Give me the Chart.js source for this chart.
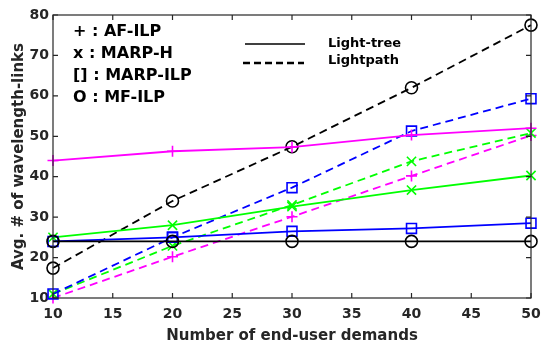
<!DOCTYPE html>
<html>
<head>
<meta charset="utf-8">
<script src="https://cdn.jsdelivr.net/npm/chart.js@4.4.0/dist/chart.umd.min.js"></script>
<style>
  html, body { margin: 0; padding: 0; background: #fff; }
  #wrap { width: 541px; height: 345px; }
</style>
</head>
<body>
<div id="wrap"><canvas id="chart" width="541" height="345"></canvas></div>
<script>
// x values: number of end-user demands
const demands = [10, 20, 30, 40, 50];
const xTicks = [10, 15, 20, 25, 30, 35, 40, 45, 50];
const yTicks = [10, 20, 30, 40, 50, 60, 70, 80];

// Light-tree (solid lines)
const afIlpTree = [44, 46.3, 47.3, 50.3, 52];
const marpHTree = [25, 28, 32.6, 36.7, 40.3];
const marpIlpTree = [24, 25, 26.5, 27.2, 28.5];
const mfIlpTree = [24, 24, 24, 24, 24];

// Lightpath (dashed lines)
const afIlpPath = [10, 20.2, 30.1, 40.2, 50.2];
const marpHPath = [11, 22.9, 33, 43.8, 50.8];
const marpIlpPath = [11, 25, 37.3, 51.3, 59.3];
const mfIlpPath = [17.4, 34, 47.4, 62, 77.5];

const legendMarkers = ['+ : AF-ILP', 'x : MARP-H', '[] : MARP-ILP', 'O : MF-ILP'];
const legendLines = ['Light-tree', 'Lightpath'];

const textColor = '#262626';
const fontFamily = '"DejaVu Sans", Arial, sans-serif';

function makeSet(values, color, style, dashed) {
    const radius = { circle: 6, rect: 7, cross: 5.5, crossRot: 6.5 }[style];
    return {
        data: values.map((v, i) => ({ x: demands[i], y: v })),
        borderColor: color,
        backgroundColor: 'transparent',
        pointBorderColor: color,
        pointBackgroundColor: 'transparent',
        pointStyle: style,
        pointRadius: radius,
        pointBorderWidth: 1.6,
        borderWidth: 1.8,
        borderDash: dashed ? [8, 5] : [],
        clip: false
    };
}

// axis box, inward ticks and the text legend
const framePlugin = {
    id: 'frame',
    afterDraw(chart) {
        const ctx = chart.ctx;
        const a = chart.chartArea;
        const xs = chart.scales.x;
        const ys = chart.scales.y;
        ctx.save();
        ctx.strokeStyle = '#262626';
        ctx.lineWidth = 1.2;
        ctx.strokeRect(a.left, a.top, a.right - a.left, a.bottom - a.top);
        ctx.beginPath();
        xTicks.forEach(t => {
            const px = xs.getPixelForValue(t);
            ctx.moveTo(px, a.bottom); ctx.lineTo(px, a.bottom - 5);
            ctx.moveTo(px, a.top); ctx.lineTo(px, a.top + 5);
        });
        yTicks.forEach(t => {
            const py = ys.getPixelForValue(t);
            ctx.moveTo(a.left, py); ctx.lineTo(a.left + 5, py);
            ctx.moveTo(a.right, py); ctx.lineTo(a.right - 5, py);
        });
        ctx.stroke();

        // marker legend
        ctx.fillStyle = '#000';
        ctx.font = 'bold 16px ' + fontFamily;
        ctx.textBaseline = 'middle';
        ctx.textAlign = 'left';
        legendMarkers.forEach((t, i) => {
            ctx.fillText(t, 73, 32 + i * 22);
        });

        // line style legend
        ctx.font = 'bold 13px ' + fontFamily;
        ctx.strokeStyle = '#000';
        ctx.lineWidth = 1.6;
        ctx.beginPath();
        ctx.moveTo(245, 44); ctx.lineTo(305, 44);
        ctx.stroke();
        ctx.setLineDash([7, 4]);
        ctx.lineWidth = 2.6;
        ctx.beginPath();
        ctx.moveTo(243, 63); ctx.lineTo(304, 63);
        ctx.stroke();
        ctx.setLineDash([]);
        ctx.fillText(legendLines[0], 328, 44);
        ctx.fillText(legendLines[1], 328, 61);
        ctx.restore();
    }
};

new Chart(document.getElementById('chart').getContext('2d'), {
    type: 'line',
    data: {
        datasets: [
            makeSet(mfIlpTree, '#000000', 'circle', false),
            makeSet(marpIlpTree, '#0000ff', 'rect', false),
            makeSet(marpHTree, '#00ff00', 'crossRot', false),
            makeSet(afIlpTree, '#ff00ff', 'cross', false),
            makeSet(mfIlpPath, '#000000', 'circle', true),
            makeSet(marpIlpPath, '#0000ff', 'rect', true),
            makeSet(marpHPath, '#00ff00', 'crossRot', true),
            makeSet(afIlpPath, '#ff00ff', 'cross', true)
        ]
    },
    options: {
        responsive: false,
        animation: false,
        layout: { padding: { left: 3, right: 10, top: 15, bottom: 0 } },
        plugins: {
            legend: { display: false },
            tooltip: { enabled: false }
        },
        scales: {
            x: {
                type: 'linear',
                min: 10,
                max: 50,
                afterBuildTicks: s => { s.ticks = xTicks.map(v => ({ value: v })); },
                afterFit: s => { s.height = 47; s.paddingLeft = 0; s.paddingRight = 0; },
                grid: { display: false, drawTicks: false },
                border: { display: false },
                ticks: {
                    color: textColor,
                    padding: 8,
                    font: { family: fontFamily, size: 14, weight: 'bold' },
                    maxRotation: 0
                },
                title: {
                    display: true,
                    text: 'Number of end-user demands',
                    color: textColor,
                    padding: { top: 0, bottom: 0 },
                    font: { family: fontFamily, size: 15, weight: 'bold' }
                }
            },
            y: {
                min: 10,
                max: 80,
                afterBuildTicks: s => { s.ticks = yTicks.map(v => ({ value: v })); },
                afterFit: s => { s.width = 50; s.paddingTop = 0; s.paddingBottom = 0; },
                grid: { display: false, drawTicks: false },
                border: { display: false },
                ticks: {
                    color: textColor,
                    padding: 4,
                    font: { family: fontFamily, size: 14, weight: 'bold' }
                },
                title: {
                    display: true,
                    text: 'Avg. # of wavelength-links',
                    color: textColor,
                    padding: { top: 7, bottom: 0 },
                    font: { family: fontFamily, size: 15, weight: 'bold' }
                }
            }
        }
    },
    plugins: [framePlugin]
});
</script>
</body>
</html>
